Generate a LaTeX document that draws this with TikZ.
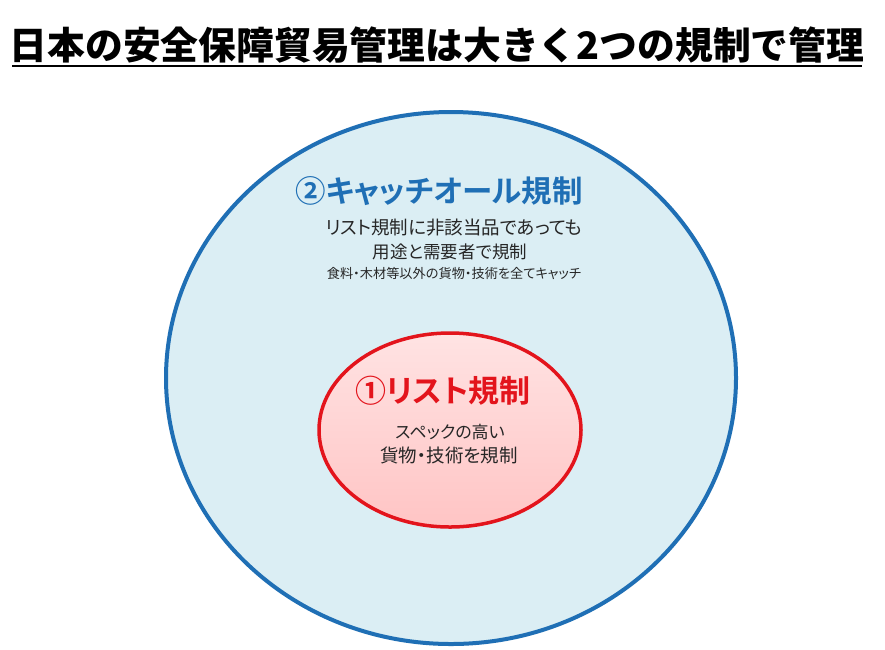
\documentclass[tikz,border=0pt]{standalone}
\usepackage{fontspec}
\newfontfamily\jpk{Noto Sans CJK JP Black}
\newfontfamily\jpb[RawFeature=+palt]{Noto Sans CJK JP Bold}
\newfontfamily\jp[RawFeature=+palt]{Noto Sans CJK JP}
\definecolor{outerblue}{HTML}{1F6FB5}
\definecolor{outerfill}{HTML}{DBEEF4}
\definecolor{innerred}{HTML}{E3141C}
\definecolor{txtgray}{HTML}{262626}
\tikzset{
  outerell/.style={ellipse, draw=outerblue, line width=4pt, fill=outerfill, minimum width=570pt, minimum height=532pt, inner sep=0pt},
  innerell/.style={ellipse, draw=innerred, line width=3.5pt, top color=red!11, bottom color=red!23, minimum width=262pt, minimum height=194pt, inner sep=0pt},
  bodytxt/.style={font=\jp, text=txtgray, inner sep=0pt, align=center},
}
\usetikzlibrary{shapes.geometric}
\begin{document}
\begin{tikzpicture}[x=1pt,y=-1pt]
\useasboundingbox (0,0) rectangle (885,649);
\fill[white] (0,0) rectangle (885,649);
\node[inner sep=0pt, font=\jpk\fontsize{37.8}{41}\selectfont] (title) at (437,45) {日本の安全保障貿易管理は大きく2つの規制で管理};
\coordinate (ul) at (12,66);
\coordinate (ur) at (862,66);
\draw[line width=2.6pt] (ul) -- (ur);
\node[outerell] (outer) at (451,378) {};
\node[innerell] (inner) at (450,430) {};
\node[inner sep=0pt, text=outerblue, font=\jpb\fontsize{30.5}{33}\selectfont] (catchall) at (439,191) {②キャッチオール規制};
\node[bodytxt, font=\jp\fontsize{18.5}{21}\selectfont] (c1) at (454,228) {リスト規制に非該当品であっても};
\node[bodytxt, font=\jp\fontsize{17.5}{20}\selectfont] (c2) at (450,252) {用途と需要者で規制};
\node[bodytxt, font=\jp\fontsize{13.2}{15}\selectfont] (c3) at (454,274) {食料・木材等以外の貨物・技術を全てキャッチ};
\node[inner sep=0pt, text=innerred, font=\jpb\fontsize{31}{34}\selectfont] (list) at (443,391) {①リスト規制};
\node[bodytxt, font=\jp\fontsize{17}{19}\selectfont] (l1) at (450,432) {スペックの高い};
\node[bodytxt, font=\jp\fontsize{18.5}{21}\selectfont] (l2) at (449,455) {貨物・技術を規制};
\end{tikzpicture}
\end{document}
